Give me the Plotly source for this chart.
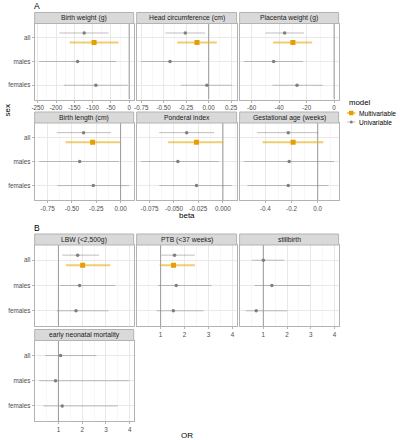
import numpy as np
import plotly.graph_objects as go

W, H = 400, 440

# ---------------- data ----------------
sex_levels = ["females", "males", "all"]        # bottom -> top on the y axis
univ_sexes = ["all", "males", "females"]        # order of the univariable arrays

a_outcomes = ["Birth weight (g)", "Head circumference (cm)", "Placenta weight (g)",
              "Birth length (cm)", "Ponderal index", "Gestational age (weeks)"]
a_univ_est = [[-123, -141, -91], [-0.26, -0.43, -0.02], [-36, -44, -27],
              [-0.38, -0.42, -0.28], [-0.037, -0.046, -0.027], [-0.225, -0.218, -0.225]]
a_univ_lo = [[-191, -246, -178], [-0.48, -0.75, -0.31], [-50, -65.5, -45],
             [-0.655, -0.835, -0.648], [-0.065, -0.0835, -0.065], [-0.463, -0.562, -0.537]]
a_univ_hi = [[-56, -35, -4], [-0.04, -0.10, 0.26], [-22, -22.6, -8.3],
             [-0.098, -0.017, 0.088], [-0.009, -0.004, 0.0094], [0.005, 0.125, 0.083]]
a_multi_est = [-96, -0.13, -30, -0.287, -0.027, -0.188]
a_multi_lo = [-163, -0.35, -44.5, -0.564, -0.056, -0.421]
a_multi_hi = [-29, 0.09, -16, -0.007, 0.0003, 0.043]
a_ticks = [[-250, -200, -150, -100, -50, 0], [-0.75, -0.5, -0.25, 0, 0.25], [-60, -40, -20, 0],
           [-0.75, -0.5, -0.25, 0], [-0.075, -0.05, -0.025, 0], [-0.6, -0.4, -0.2, 0]]
a_ticklabels = [["-250", "-200", "-150", "-100", "-50", "0"],
                ["-0.75", "-0.50", "-0.25", "0.00", "0.25"],
                ["-60", "-40", "-20", "0"],
                ["-0.75", "-0.50", "-0.25", "0.00"],
                ["-0.075", "-0.050", "-0.025", "0.000"],
                ["-0.6", "-0.4", "-0.2", "0.0"]]

b_outcomes = ["LBW (<2,500g)", "PTB (<37 weeks)", "stillbirth", "early neonatal mortality"]
b_univ_est = [[1.81, 1.89, 1.74], [1.58, 1.65, 1.53], [1.00, 1.36, 0.70], [1.09, 0.88, 1.16]]
b_univ_lo = [[1.16, 1.06, 0.93], [1.03, 0.89, 0.84], [0.53, 0.63, 0.26], [0.44, 0.19, 0.37]]
b_univ_hi = [[2.71, 3.40, 3.11], [2.43, 3.12, 2.79], [1.87, 2.98, 2.01], [2.60, 3.98, 3.50]]
b_multi_est = [2.02, 1.54, None, None]
b_multi_lo = [1.32, 0.96, None, None]
b_multi_hi = [3.18, 2.43, None, None]
b_ticks = [1, 2, 3, 4]
b_ticklabels = ["1", "2", "3", "4"]

ref_beta = 0
ref_or = 1

models = ["Multivariable", "Univariable"]

# ---------------- style / layout ----------------
FONT = "Liberation Sans, Arial, sans-serif"
C_MULTI = "#E69F00"
C_MULTI_LINE = "rgba(232,172,20,0.6)"
C_UNIV = "#7f7f7f"
C_UNIV_LINE = "rgba(140,140,140,0.55)"
C_REF = "#9a9a9a"
BORDER = "#b3b3b3"
GRID = "#e4e4e4"
GRID_MINOR = "#f0f0f0"
TICKCOL = "#4d4d4d"
DODGE = 0.2
Y_RANGE = [0.4, 3.6]

cols = [(32, 132), (135, 236), (239, 339)]
a_rows = [(23.5, 99.5), (123, 200)]
b_rows = [(245, 326), (340.5, 421)]
STRIP_H = 11

ypos = {s: i + 1 for i, s in enumerate(sex_levels)}

fig = go.Figure()
shapes = []
annotations = []


def px_x(x):
    return x / W


def px_y(y):
    return 1 - y / H


def expanded(lo_vals, hi_vals, ref):
    lo = min(min(lo_vals), ref)
    hi = max(max(hi_vals), ref)
    pad = (hi - lo) * 0.05
    return [lo - pad, hi + pad]


def minor_vals(ticks):
    step = ticks[1] - ticks[0]
    return [ticks[0] - step / 2] + [t + step / 2 for t in ticks]


def add_panel(k, col, rowpx, title, est, lo, hi, m_est, m_lo, m_hi,
              ticks, ticklabels, xrange, show_x, show_y, ref):
    xa = "x" if k == 1 else f"x{k}"
    ya = "y" if k == 1 else f"y{k}"
    has_multi = m_est is not None
    est = np.array(est, float)
    lo = np.array(lo, float)
    hi = np.array(hi, float)
    # reference line (drawn first so it lies beneath the estimates)
    fig.add_trace(go.Scatter(
        x=[ref, ref], y=Y_RANGE, xaxis=xa, yaxis=ya, mode="lines",
        line=dict(color=C_REF, width=1), showlegend=False, hoverinfo="skip"))
    yu = [ypos[s] + (DODGE if (has_multi and s == "all") else 0) for s in univ_sexes]
    fig.add_trace(go.Scatter(
        x=est, y=yu, xaxis=xa, yaxis=ya, mode="markers", name="Univariable",
        marker=dict(symbol="circle", size=3.5, color=C_UNIV),
        error_x=dict(type="data", symmetric=False, array=hi - est, arrayminus=est - lo,
                     color=C_UNIV_LINE, thickness=1, width=0),
        showlegend=False, hoverinfo="skip"))
    if has_multi:
        fig.add_trace(go.Scatter(
            x=[m_est], y=[ypos["all"] - DODGE], xaxis=xa, yaxis=ya, mode="markers",
            name="Multivariable",
            marker=dict(symbol="square", size=5, color=C_MULTI),
            error_x=dict(type="data", symmetric=False, array=[m_hi - m_est],
                         arrayminus=[m_est - m_lo], color=C_MULTI_LINE, thickness=2, width=0),
            showlegend=False, hoverinfo="skip"))
    x0, x1 = cols[col]
    top, bot = rowpx
    lay = {}
    lay["xaxis" if k == 1 else f"xaxis{k}"] = dict(
        domain=[px_x(x0), px_x(x1)], anchor=ya, range=xrange,
        tickmode="array", tickvals=ticks, ticktext=ticklabels,
        showticklabels=show_x, ticks="outside" if show_x else "", ticklen=2,
        tickcolor=BORDER, tickfont=dict(size=6.3, color=TICKCOL, family=FONT),
        showgrid=True, gridcolor=GRID, gridwidth=0.8, zeroline=False,
        showline=True, mirror=True, linecolor=BORDER, linewidth=1,
        minor=dict(tickmode="array", tickvals=minor_vals(ticks), showgrid=True,
                   gridcolor=GRID_MINOR, gridwidth=0.5, ticks=""),
        fixedrange=True)
    lay["yaxis" if k == 1 else f"yaxis{k}"] = dict(
        domain=[px_y(bot), px_y(top)], anchor=xa, range=Y_RANGE,
        tickmode="array", tickvals=[ypos[s] for s in sex_levels], ticktext=sex_levels,
        showticklabels=show_y, ticks="outside" if show_y else "", ticklen=2,
        tickcolor=BORDER, tickfont=dict(size=6.3, color=TICKCOL, family=FONT),
        showgrid=True, gridcolor=GRID, gridwidth=0.8, zeroline=False,
        showline=True, mirror=True, linecolor=BORDER, linewidth=1, fixedrange=True)
    fig.update_layout(**lay)
    # strip
    shapes.append(dict(type="rect", xref="paper", yref="paper",
                       x0=px_x(x0), x1=px_x(x1), y0=px_y(top), y1=px_y(top - STRIP_H),
                       fillcolor="#d9d9d9", line=dict(color=BORDER, width=1), layer="above"))
    annotations.append(dict(x=px_x((x0 + x1) / 2), y=px_y(top - STRIP_H / 2), xref="paper",
                            yref="paper", text=title, showarrow=False,
                            font=dict(size=6.8, color="#1a1a1a", family=FONT),
                            xanchor="center", yanchor="middle"))


k = 1
for i, title in enumerate(a_outcomes):
    r, c = divmod(i, 3)
    xr = expanded(a_univ_lo[i] + [a_multi_lo[i]], a_univ_hi[i] + [a_multi_hi[i]], ref_beta)
    add_panel(k, c, a_rows[r], title, a_univ_est[i], a_univ_lo[i], a_univ_hi[i],
              a_multi_est[i], a_multi_lo[i], a_multi_hi[i], a_ticks[i], a_ticklabels[i],
              xr, True, c == 0, ref_beta)
    k += 1

b_all_lo = [v for row in b_univ_lo for v in row] + [v for v in b_multi_lo if v is not None]
b_all_hi = [v for row in b_univ_hi for v in row] + [v for v in b_multi_hi if v is not None]
b_range = expanded(b_all_lo, b_all_hi, ref_or)
for i, title in enumerate(b_outcomes):
    r, c = divmod(i, 3)
    show_x = not (r == 0 and c == 0)
    add_panel(k, c, b_rows[r], title, b_univ_est[i], b_univ_lo[i], b_univ_hi[i],
              b_multi_est[i], b_multi_lo[i], b_multi_hi[i], b_ticks, b_ticklabels,
              b_range, show_x, c == 0, ref_or)
    k += 1

# titles and panel tags
extra = [
    dict(x=px_x(34), y=px_y(6.5), text="A", font=dict(size=8.5, color="#000000", family=FONT)),
    dict(x=px_x(34), y=px_y(228), text="B", font=dict(size=8.5, color="#000000", family=FONT)),
    dict(x=px_x(185.5), y=px_y(215), text="beta", font=dict(size=8, color="#000000", family=FONT)),
    dict(x=px_x(185.5), y=px_y(435), text="OR", font=dict(size=8, color="#000000", family=FONT)),
    dict(x=px_x(4.5), y=px_y(110), text="sex", textangle=-90,
         font=dict(size=8, color="#000000", family=FONT)),
]
for a in extra:
    a.update(xref="paper", yref="paper", showarrow=False, xanchor="center", yanchor="middle")
annotations += extra

# legend (manual keys)
annotations.append(dict(x=px_x(347), y=px_y(102), xref="paper", yref="paper", text="model",
                        showarrow=False, xanchor="left", yanchor="middle",
                        font=dict(size=7.8, color="#000000", family=FONT)))
leg_y = {"Multivariable": 113, "Univariable": 122}
for m in models:
    yy = leg_y[m]
    annotations.append(dict(x=px_x(357.5), y=px_y(yy), xref="paper", yref="paper", text=m,
                            showarrow=False, xanchor="left", yanchor="middle",
                            font=dict(size=6.6, color="#000000", family=FONT)))
    if m == "Multivariable":
        shapes.append(dict(type="line", xref="paper", yref="paper", x0=px_x(347.5), x1=px_x(356),
                           y0=px_y(yy), y1=px_y(yy), line=dict(color=C_MULTI_LINE, width=2)))
        shapes.append(dict(type="rect", xref="paper", yref="paper", x0=px_x(349.5), x1=px_x(354),
                           y0=px_y(yy + 2.25), y1=px_y(yy - 2.25), fillcolor=C_MULTI,
                           line=dict(width=0)))
    else:
        shapes.append(dict(type="line", xref="paper", yref="paper", x0=px_x(347.5), x1=px_x(356),
                           y0=px_y(yy), y1=px_y(yy), line=dict(color=C_UNIV_LINE, width=1)))
        shapes.append(dict(type="circle", xref="paper", yref="paper", x0=px_x(350.3), x1=px_x(353.3),
                           y0=px_y(yy + 1.5), y1=px_y(yy - 1.5), fillcolor=C_UNIV,
                           line=dict(width=0)))

fig.update_layout(
    width=W, height=H, autosize=False,
    margin=dict(l=0, r=0, t=0, b=0, pad=0),
    paper_bgcolor="white", plot_bgcolor="white",
    showlegend=False, shapes=shapes, annotations=annotations,
    font=dict(family=FONT), hovermode=False,
)

fig.write_html("out.html", config={"displayModeBar": False, "staticPlot": True},
               post_script="document.body.style.margin='0';")
